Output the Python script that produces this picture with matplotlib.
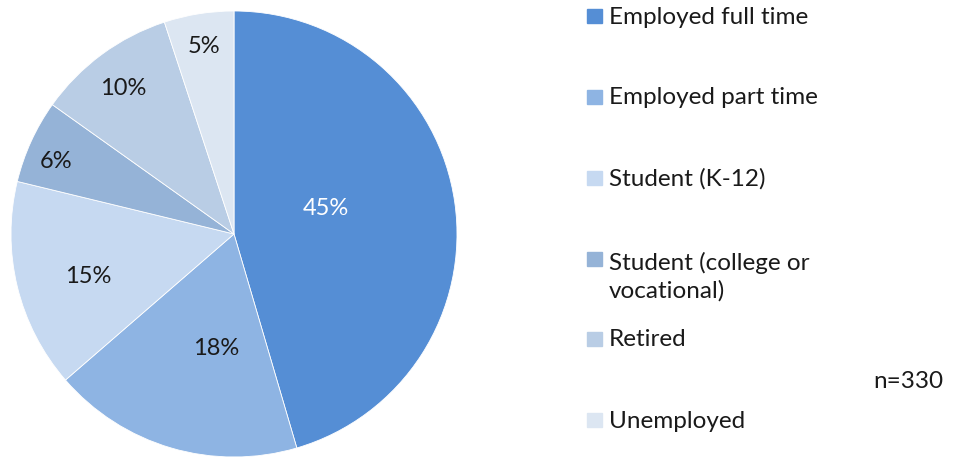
import matplotlib.pyplot as plt
import numpy as np
from matplotlib.patches import Rectangle

labels = ['Employed full time', 'Employed part time', 'Student (K-12)',
          'Student (college or\nvocational)', 'Retired', 'Unemployed']
pct = [45, 18, 15, 6, 10, 5]
colors = ['#558ED5', '#8EB4E3', '#C6D9F1', '#95B3D7', '#B9CDE5', '#DCE6F2']
n_text = 'n=330'

plt.rcParams['font.family'] = ['Lato', 'DejaVu Sans']

fig = plt.figure(figsize=(9.6, 4.57), dpi=100)
ax = fig.add_axes([11/960, 0, 446/960, 446/457])
wedges, _ = ax.pie(pct, colors=colors, startangle=90, counterclock=False,
                   wedgeprops=dict(edgecolor='white', linewidth=0.6))
ax.set_xlim(-1, 1)
ax.set_ylim(-1, 1)
ax.set_aspect('equal')

# radial position / angular nudge of each percent label, as in the original
label_r = [0.43, 0.52, 0.68, 0.86, 0.82, 0.85]
label_shift = [7.4, 7.5, 2.6, 2.4, 1.1, -0.1]
for w, p, r, s, c in zip(wedges, pct, label_r, label_shift, colors):
    a = np.deg2rad((w.theta1 + w.theta2) / 2 + s)
    tc = 'white' if c == '#558ED5' else '#1a1a1a'
    ax.text(r*np.cos(a), r*np.sin(a), f'{p}%', ha='center', va='center',
            fontsize=17, color=tc)

# legend drawn by hand to keep the uneven row spacing
rows_y = [16, 97, 178, 259, 339, 420]
for lab, c, y in zip(labels, colors, rows_y):
    fig.patches.append(Rectangle((587/960, 1 - (y+7)/457), 15/960, 14/457,
                                 transform=fig.transFigure, color=c))
    ty = y + 16.5 if '\n' in lab else y
    fig.text(609/960, 1 - (ty + 1)/457, lab, fontsize=17.5, color='#1a1a1a',
             va='center', linespacing=1.36)

fig.text(873/960, 1 - 382/457, n_text, fontsize=17.5, color='#1a1a1a', va='center')

fig.savefig('out.png')
